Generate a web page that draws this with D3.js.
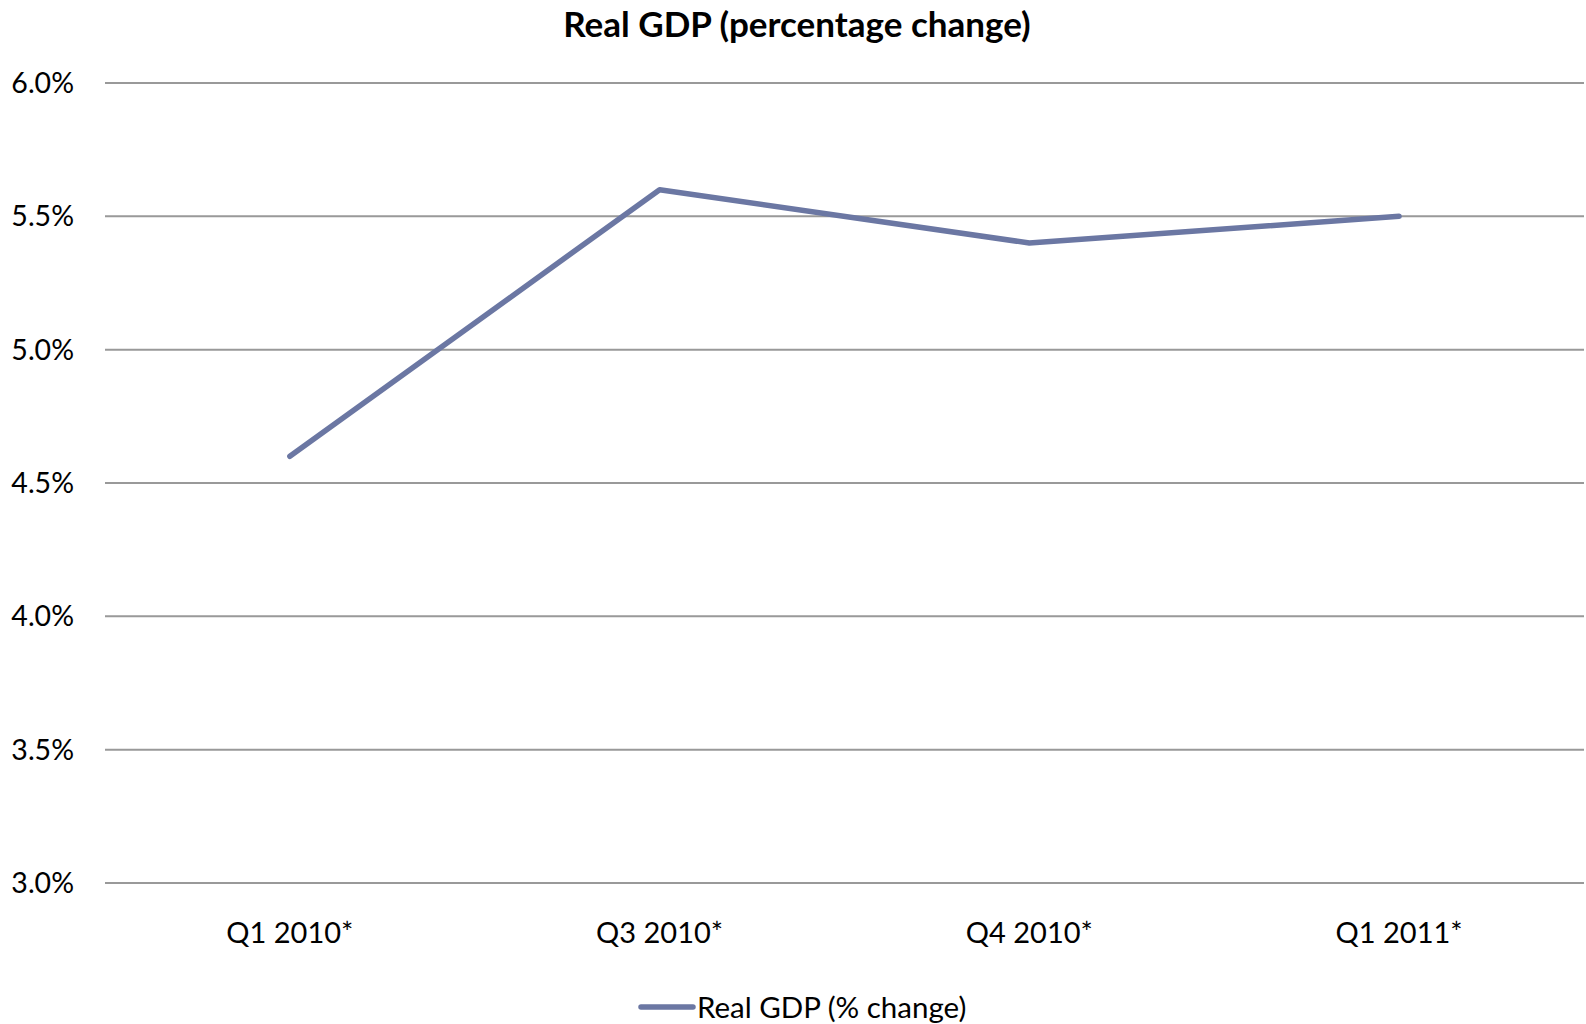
<!DOCTYPE html>
<html>
<head>
<meta charset="utf-8">
<script src="https://cdn.jsdelivr.net/npm/d3@7"></script>
<style>
  html, body { margin: 0; padding: 0; background: #fff; }
  svg { display: block; font-family: Lato, "Open Sans", sans-serif; }
</style>
</head>
<body>
<svg id="chart" width="1586" height="1024"></svg>
<script>
// Quarterly real GDP growth
const categories = ["Q1 2010*", "Q3 2010*", "Q4 2010*", "Q1 2011*"];
const gdpChange = [4.6, 5.6, 5.4, 5.5];
const yTicks = [3.0, 3.5, 4.0, 4.5, 5.0, 5.5, 6.0];
const seriesName = "Real GDP (% change)";
const chartTitle = "Real GDP (percentage change)";

const W = 1586, H = 1024;
const margin = { top: 83, right: 2, bottom: 141, left: 105 };
const svg = d3.select("#chart");

const x = d3.scaleBand()
  .domain(categories)
  .range([margin.left, W - margin.right]);

const y = d3.scaleLinear()
  .domain([3.0, 6.0])
  .range([H - margin.bottom, margin.top]);

// Title
svg.append("text")
  .attr("x", 797)
  .attr("y", 37)
  .attr("text-anchor", "middle")
  .attr("font-size", 35)
  .attr("font-weight", "bold")
  .attr("fill", "#000")
  .text(chartTitle);

// Horizontal gridlines
svg.append("g")
  .selectAll("line")
  .data(yTicks)
  .join("line")
  .attr("x1", margin.left)
  .attr("x2", W - margin.right)
  .attr("y1", d => y(d))
  .attr("y2", d => y(d))
  .attr("stroke", "#999")
  .attr("stroke-width", 2);

// Y axis labels
svg.append("g")
  .selectAll("text")
  .data(yTicks)
  .join("text")
  .attr("x", 74)
  .attr("y", d => y(d))
  .attr("dy", "0.35em")
  .attr("text-anchor", "end")
  .attr("font-size", 28.5)
  .attr("fill", "#000")
  .text(d => d3.format(".1f")(d) + "%");

// X axis labels
svg.append("g")
  .selectAll("text")
  .data(categories)
  .join("text")
  .attr("x", d => x(d) + x.bandwidth() / 2)
  .attr("y", 943)
  .attr("text-anchor", "middle")
  .attr("font-size", 29)
  .attr("fill", "#000")
  .text(d => d);

// Series line
const line = d3.line()
  .x((d, i) => x(categories[i]) + x.bandwidth() / 2)
  .y(d => y(d));

svg.append("path")
  .datum(gdpChange)
  .attr("d", line)
  .attr("fill", "none")
  .attr("stroke", "#6b77a3")
  .attr("stroke-width", 5.5)
  .attr("stroke-linecap", "round")
  .attr("stroke-linejoin", "round");

// Legend
const legend = svg.append("g");
legend.append("line")
  .attr("x1", 641).attr("x2", 693)
  .attr("y1", 1007).attr("y2", 1007)
  .attr("stroke", "#6b77a3")
  .attr("stroke-width", 5.5)
  .attr("stroke-linecap", "round");
legend.append("text")
  .attr("x", 697)
  .attr("y", 1018)
  .attr("font-size", 29.5)
  .attr("fill", "#000")
  .text(seriesName);
</script>
</body>
</html>
